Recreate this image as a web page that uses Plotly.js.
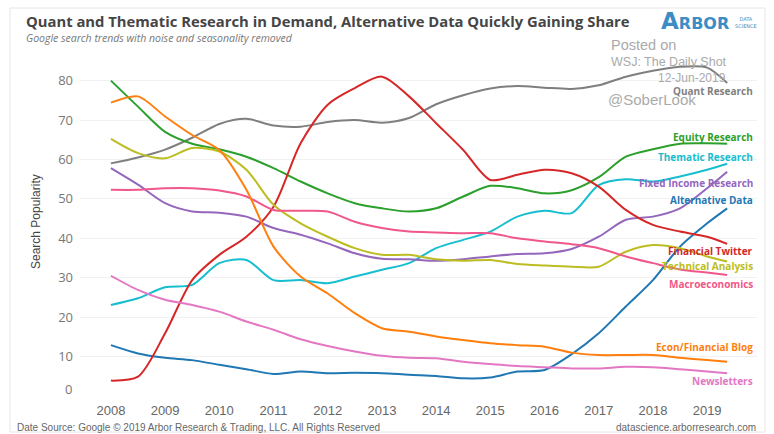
<!DOCTYPE html>
<html>
<head>
<meta charset="utf-8">
<script src="https://cdn.plot.ly/plotly-3.0.1.min.js"></script>
<style>html,body{margin:0;padding:0;background:#fff;}#chart{width:774px;height:434px;}</style>
</head>
<body>
<div id="chart"></div>
<script>
const years = [2008, 2008.5, 2009, 2009.5, 2010, 2010.5, 2011, 2011.5, 2012, 2012.5, 2013, 2013.5, 2014, 2014.5, 2015, 2015.5, 2016, 2016.5, 2017, 2017.5, 2018, 2018.5, 2019, 2019.37];
const quantResearch = [59, 60.5, 62.5, 65.5, 69, 70.3, 68.6, 68.3, 69.5, 70, 69.3, 70.5, 74, 76.3, 78, 78.6, 78.2, 77.9, 78.8, 81, 82.5, 83.5, 83.3, 79.4];
const equityResearch = [80, 73.4, 67, 64, 62.6, 60.7, 57.8, 54.4, 51.4, 48.9, 47.6, 46.8, 47.6, 50.6, 53.3, 52.7, 51.4, 52.2, 55.5, 60.7, 62.6, 64, 64.1, 64];
const thematicResearch = [23.1, 24.8, 27.6, 28.2, 33.7, 34.5, 29.4, 29.4, 28.6, 30.3, 32, 33.7, 37.5, 39.6, 41.7, 45.5, 47, 46.4, 53.5, 55, 54.4, 55.7, 57.4, 58.9];
const fixedIncomeResearch = [57.8, 53.6, 48.9, 46.8, 46.5, 45.5, 42.6, 40.9, 38.7, 36.2, 34.8, 34.7, 34.3, 34.7, 35.4, 36, 36.2, 37.3, 40.4, 44.7, 45.5, 47.6, 52.7, 56.9];
const alternativeData = [12.9, 10.8, 9.7, 9.1, 7.9, 6.8, 5.6, 6.2, 5.8, 5.9, 5.8, 5.4, 5.1, 4.5, 4.7, 6.2, 6.6, 10.6, 15.9, 22.7, 29.4, 37.9, 43.8, 47.6];
const financialTwitter = [3.9, 4.9, 15.9, 29.4, 35.8, 40.4, 48, 64.1, 73.9, 78.1, 81, 76, 69.2, 62.4, 54.8, 56.1, 57.4, 56.5, 53.1, 47.2, 43.4, 41.7, 40.4, 38.6];
const technicalAnalysis = [65.2, 61.6, 60.3, 62.9, 62, 57.4, 48.5, 43.8, 40.4, 37.5, 35.8, 35.8, 34.7, 34.3, 34.5, 33.5, 33.1, 32.8, 32.8, 36.6, 38.3, 37.5, 35.4, 34.1];
const macroeconomics = [52.3, 52.3, 52.7, 52.7, 52.1, 50.6, 47.2, 47, 46.8, 44.2, 42.6, 41.7, 41.5, 41.3, 41.3, 40, 39.2, 38.5, 37.5, 35.4, 33.7, 32.1, 31.3, 30.7];
const econFinancialBlog = [74.4, 76, 70.9, 66.2, 62.4, 52.3, 37.9, 30.3, 26, 21, 17.2, 16.3, 15.1, 14.2, 13.4, 12.9, 12.5, 11, 10.4, 10.4, 10.4, 9.7, 9.1, 8.7];
const newsletters = [30.5, 26.9, 24.4, 23.1, 21.4, 18.9, 16.8, 14.4, 12.7, 11.3, 10.2, 9.7, 9.6, 8.7, 8.1, 7.6, 7.3, 7, 7, 7.4, 7.3, 6.8, 6.2, 5.8];

const seriesNames = ["Quant Research", "Equity Research", "Thematic Research", "Fixed Income Research", "Alternative Data", "Financial Twitter", "Technical Analysis", "Macroeconomics", "Econ/Financial Blog", "Newsletters"];
const seriesValues = [quantResearch, equityResearch, thematicResearch, fixedIncomeResearch, alternativeData, financialTwitter, technicalAnalysis, macroeconomics, econFinancialBlog, newsletters];
const seriesColors = ["#7f7f7f", "#2ca02c", "#17becf", "#9467bd", "#1f77b4", "#d62728", "#bcbd22", "#f0578a", "#ff7f0e", "#e377c2"];
const labelY = [77.4, 65.8, 60.7, 54.1, 49.7, 36.8, 33.0, 28.4, 12.4, 3.8];
const yearTicks = [2008, 2009, 2010, 2011, 2012, 2013, 2014, 2015, 2016, 2017, 2018, 2019];
const yTicks = [0, 10, 20, 30, 40, 50, 60, 70, 80];
const yTickText = ["", "10", "20", "30", "40", "50", "60", "70", "80"];

// pixel helpers (plot area: x 80..757, y 53..396)
const L = 80, R = 757, T = 53, B = 396;
const px = x => (x - L) / (R - L);
const py = y => (B - y) / (B - T);

const traces = seriesNames.map((n, i) => ({
  x: years, y: seriesValues[i], name: n, type: 'scatter', mode: 'lines',
  line: {color: seriesColors[i], width: 2, shape: 'spline', smoothing: 0.8},
  hoverinfo: 'x+y+name'
}));

const annotations = seriesNames.map((n, i) => ({
  text: '<b>' + n + '</b>', xref: 'paper', x: px(755), xanchor: 'right',
  yref: 'y', y: labelY[i], yanchor: 'middle', showarrow: false,
  font: {family: 'Open Sans, sans-serif', size: 10, color: seriesColors[i]}
}));

const grey = '#aaa';
annotations.push(
  {text: '<b>Quant and Thematic Research in Demand, Alternative Data Quickly Gaining Share</b>', xref: 'paper', yref: 'paper', x: px(24), y: py(21), xanchor: 'left', yanchor: 'middle', showarrow: false, font: {family: 'Open Sans, sans-serif', size: 14.8, color: '#454545'}},
  {text: '<i>Google search trends with noise and seasonality removed</i>', xref: 'paper', yref: 'paper', x: px(24), y: py(38.5), xanchor: 'left', yanchor: 'middle', showarrow: false, font: {family: 'Open Sans, sans-serif', size: 10.5, color: '#777'}},
  {text: 'Search Popularity', xref: 'paper', yref: 'paper', x: px(36), y: py(222), xanchor: 'center', yanchor: 'middle', textangle: -90, showarrow: false, font: {family: 'Liberation Sans Narrow, Arial Narrow, sans-serif', size: 12, color: '#444'}},
  {text: '0', xref: 'paper', yref: 'paper', x: px(73.5), y: py(389), xanchor: 'right', yanchor: 'middle', showarrow: false, font: {family: 'Open Sans, sans-serif', size: 13, color: '#777'}},
  {text: 'Date Source: Google © 2019 Arbor Research &amp; Trading, LLC. All Rights Reserved', xref: 'paper', yref: 'paper', x: px(15), y: py(427), xanchor: 'left', yanchor: 'middle', showarrow: false, font: {family: 'Liberation Sans Narrow, sans-serif', size: 10, color: '#666'}},
  {text: 'datascience.arborresearch.com', xref: 'paper', yref: 'paper', x: px(758), y: py(427), xanchor: 'right', yanchor: 'middle', showarrow: false, font: {family: 'Liberation Sans Narrow, sans-serif', size: 10, color: '#666'}},
  {text: '<b><span style="font-size:23px">A</span>RBOR</b>', xref: 'paper', yref: 'paper', x: px(659), y: py(21), xanchor: 'left', yanchor: 'middle', showarrow: false, font: {family: 'DejaVu Sans, sans-serif', size: 16, color: '#3c8dc5'}},
  {text: 'DATA<br>SCIENCE', xref: 'paper', yref: 'paper', x: px(733), y: py(22), xanchor: 'left', yanchor: 'middle', showarrow: false, font: {family: 'DejaVu Sans, sans-serif', size: 5, color: '#3c8dc5'}},
  {text: 'Posted on', xref: 'paper', yref: 'paper', x: px(609), y: py(45), xanchor: 'left', yanchor: 'middle', showarrow: false, font: {family: 'Liberation Sans, Arial, sans-serif', size: 14.5, color: grey}},
  {text: 'WSJ: The Daily Shot', xref: 'paper', yref: 'paper', x: px(609), y: py(62), xanchor: 'left', yanchor: 'middle', showarrow: false, font: {family: 'Liberation Sans, Arial, sans-serif', size: 12.5, color: grey}},
  {text: '12-Jun-2019', xref: 'paper', yref: 'paper', x: px(656), y: py(78), xanchor: 'left', yanchor: 'middle', showarrow: false, font: {family: 'Liberation Sans, Arial, sans-serif', size: 12, color: grey}},
  {text: '@SoberLook', xref: 'paper', yref: 'paper', x: px(606), y: py(100), xanchor: 'left', yanchor: 'middle', showarrow: false, font: {family: 'Liberation Sans, Arial, sans-serif', size: 15, color: grey}}
);

const layout = {
  width: 774, height: 434,
  margin: {l: L, r: 774 - R, t: T, b: 434 - B, pad: 0},
  paper_bgcolor: '#fff', plot_bgcolor: '#fff',
  showlegend: false,
  xaxis: {range: [2007.43, 2019.92], tickvals: yearTicks, ticktext: yearTicks.map(String), showgrid: false, zeroline: false, showline: false, ticks: '', ticklabelstandoff: 5, tickfont: {family: 'Liberation Sans, Arial, sans-serif', size: 13, color: '#666'}},
  yaxis: {range: [0, 87], tickvals: yTicks, ticktext: yTickText, gridcolor: '#f1f1f1', gridwidth: 1, zeroline: false, showline: false, ticks: '', ticklabelstandoff: 6, tickfont: {family: 'Open Sans, sans-serif', size: 13, color: '#777'}},
  annotations: annotations,
  shapes: [
    {type: 'rect', xref: 'paper', yref: 'paper', x0: px(10), x1: px(765), y0: py(432), y1: py(8), line: {color: '#e6e6e6', width: 1}, fillcolor: 'rgba(0,0,0,0)', layer: 'below'}
  ]
};

Plotly.newPlot('chart', traces, layout, {displayModeBar: false, staticPlot: true});
</script>
</body>
</html>
